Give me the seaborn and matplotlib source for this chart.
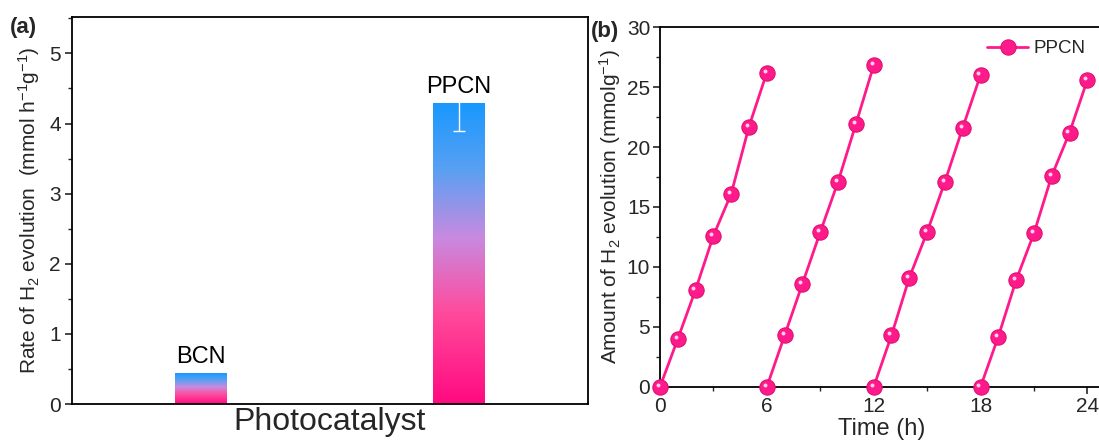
import numpy as np
import pandas as pd
import matplotlib
matplotlib.use("Agg")
import matplotlib.pyplot as plt
import matplotlib.transforms as mtransforms
from matplotlib.colors import LinearSegmentedColormap
from matplotlib.ticker import MultipleLocator
import seaborn as sns

# ---------------- data ----------------
catalysts = ["BCN", "PPCN"]
rates = [0.44, 4.30]
rate_err = [0.0, 0.40]

hours_c1 = [0, 1, 2, 3, 4, 5, 6]
hours_c2 = [6, 7, 8, 9, 10, 11, 12]
hours_c3 = [12, 13, 14, 15, 16, 17, 18]
hours_c4 = [18, 19, 20, 21, 22, 23, 24]
amount_c1 = [0.0, 4.0, 8.1, 12.6, 16.1, 21.7, 26.2]
amount_c2 = [0.0, 4.3, 8.6, 12.9, 17.1, 21.9, 26.8]
amount_c3 = [0.0, 4.3, 9.1, 12.9, 17.1, 21.6, 26.0]
amount_c4 = [0.0, 4.2, 8.9, 12.8, 17.6, 21.2, 25.6]
time_ticks = [0, 6, 12, 18, 24]

# ---------------- style ----------------
sns.set_theme(style="ticks")
plt.rcParams["font.family"] = ["Liberation Sans", "DejaVu Sans"]
plt.rcParams["mathtext.fontset"] = "custom"
plt.rcParams["mathtext.rm"] = "Liberation Sans"
plt.rcParams["mathtext.it"] = "Liberation Sans:italic"
plt.rcParams["axes.linewidth"] = 1.3

pink = "#ff1a8c"

fig = plt.figure(figsize=(10.99, 4.40), dpi=100)
axa = fig.add_axes([0.0655, 0.0818, 0.4695, 0.8796])
axb = fig.add_axes([0.6005, 0.1205, 0.4035, 0.8181])

# ---------------- panel (a) ----------------
dfa = pd.DataFrame({"cat": catalysts, "rate": rates})
sns.barplot(data=dfa, x="cat", y="rate", ax=axa, width=0.2, color="white",
            edgecolor="none", errorbar=None)
cmap = LinearSegmentedColormap.from_list(
    "grad", [(0.0, "#ff0a80"), (0.3, "#ff4a9c"), (0.55, "#c88ae0"),
             (0.78, "#58a0f2"), (1.0, "#1898ff")])
grad = np.linspace(0, 1, 256).reshape(-1, 1)
for p, lab, err in zip(axa.patches, catalysts, rate_err):
    x0, y0 = p.get_x(), p.get_y()
    w, h = p.get_width(), p.get_height()
    im = axa.imshow(grad, cmap=cmap, origin="lower", aspect="auto",
                    extent=[x0, x0 + w, y0, y0 + h], zorder=2)
    im.set_clip_path(p)
    cx = x0 + w / 2
    if err > 0:
        axa.errorbar(cx, y0 + h, yerr=err, color="white", capsize=4,
                     lw=1.0, capthick=1.0, zorder=3)
    axa.text(cx, y0 + h + 0.07, lab, ha="center", va="bottom", fontsize=17,
             color="black", zorder=4)

axa.set_xlim(-0.5, 1.5)
axa.set_ylim(0, 5.52)
axa.yaxis.set_major_locator(MultipleLocator(1))
axa.yaxis.set_minor_locator(MultipleLocator(0.5))
axa.set_xticks([])
axa.tick_params(axis="y", which="major", direction="out", length=5, width=1.2,
                labelsize=15, pad=3)
axa.tick_params(axis="y", which="minor", direction="out", length=3, width=1.0)
axa.set_xlabel("Photocatalyst", fontsize=23, labelpad=2)
axa.set_ylabel(r"Rate of H$_2$ evolution  (mmol h$^{-1}$g$^{-1}$)", fontsize=15,
               labelpad=5)
for s in axa.spines.values():
    s.set_visible(True)
    s.set_color("black")
fig.text(0.009, 0.925, "(a)", fontsize=16, fontweight="bold")

# ---------------- panel (b) ----------------
cycles = [(hours_c1, amount_c1), (hours_c2, amount_c2),
          (hours_c3, amount_c3), (hours_c4, amount_c4)]
hl = mtransforms.offset_copy(axb.transData, fig=fig, x=-1.5, y=1.5, units="points")
for i, (tt, aa) in enumerate(cycles):
    sns.lineplot(x=tt, y=aa, ax=axb, color=pink, lw=2.0, marker="o",
                 markersize=11, markeredgecolor="#e0106e", markeredgewidth=0.8,
                 label="PPCN" if i == 0 else None, clip_on=False, zorder=3)
    axb.scatter(tt, aa, s=8, color="#ffd0e6", transform=hl, zorder=4,
                clip_on=False, linewidths=0)

axb.set_xlim(0, 24.9)
axb.set_ylim(0, 30)
axb.set_xticks(time_ticks)
axb.xaxis.set_minor_locator(MultipleLocator(3))
axb.yaxis.set_major_locator(MultipleLocator(5))
axb.yaxis.set_minor_locator(MultipleLocator(2.5))
axb.tick_params(axis="both", which="major", direction="out", length=5, width=1.2,
                labelsize=15, pad=2)
axb.tick_params(axis="both", which="minor", direction="out", length=3, width=1.0)
axb.set_xlabel("Time (h)", fontsize=17, labelpad=2)
axb.set_ylabel(r"Amount of H$_2$ evolution (mmolg$^{-1}$)", fontsize=15,
               labelpad=3)
for s in axb.spines.values():
    s.set_visible(True)
    s.set_color("black")
leg = axb.legend(loc="upper right", frameon=False, fontsize=13.5,
                 handlelength=2.2, handletextpad=0.3, borderaxespad=0.3,
                 bbox_to_anchor=(0.99, 1.0))
fig.text(0.538, 0.915, "(b)", fontsize=16, fontweight="bold")

fig.savefig("out.png", dpi=100)
